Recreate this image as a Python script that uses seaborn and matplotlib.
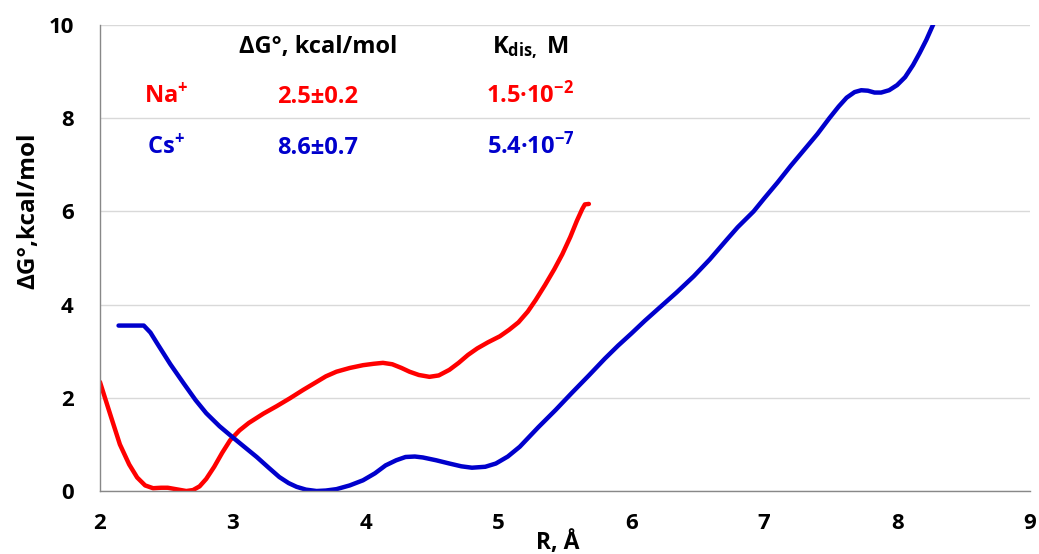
import numpy as np
import pandas as pd
import seaborn as sns
import matplotlib
matplotlib.use("Agg")
import matplotlib.pyplot as plt

# ----------------------------
# DATA
# ----------------------------

na_r = [2.00, 2.04, 2.08, 2.15, 2.22, 2.28, 2.34, 2.40, 2.46, 2.51, 2.57, 2.65,
        2.70, 2.75, 2.80, 2.86, 2.92, 2.98, 3.05, 3.12, 3.23, 3.33, 3.43, 3.53,
        3.63, 3.70, 3.78, 3.88, 3.98, 4.06, 4.13, 4.20, 4.27, 4.33, 4.40, 4.48,
        4.55, 4.63, 4.70, 4.77, 4.84, 4.92, 5.01, 5.08, 5.15, 5.22, 5.28, 5.35,
        5.42, 5.48, 5.54, 5.59, 5.63, 5.65, 5.68]
na_g = [2.34, 1.98, 1.62, 1.00, 0.57, 0.29, 0.12, 0.06, 0.07, 0.07, 0.04, 0.00,
        0.02, 0.10, 0.26, 0.52, 0.82, 1.09, 1.30, 1.46, 1.66, 1.82, 1.99, 2.17,
        2.34, 2.46, 2.56, 2.64, 2.70, 2.73, 2.75, 2.72, 2.64, 2.56, 2.49, 2.45,
        2.48, 2.60, 2.75, 2.92, 3.06, 3.19, 3.32, 3.46, 3.62, 3.85, 4.10, 4.42,
        4.76, 5.08, 5.45, 5.80, 6.05, 6.15, 6.16]

cs_r = [2.14, 2.33, 2.38, 2.43, 2.53, 2.63, 2.72, 2.80, 2.90, 3.00, 3.09, 3.18,
        3.27, 3.35, 3.42, 3.48, 3.55, 3.63, 3.70, 3.78, 3.88, 3.98, 4.07, 4.15,
        4.23, 4.30, 4.37, 4.43, 4.53, 4.63, 4.72, 4.80, 4.90, 4.98, 5.07, 5.16,
        5.20, 5.30, 5.43, 5.55, 5.68, 5.80, 5.90, 6.00, 6.10, 6.21, 6.34, 6.47,
        6.59, 6.72, 6.80, 6.92, 7.00, 7.10, 7.20, 7.30, 7.40, 7.49, 7.56, 7.62,
        7.68, 7.73, 7.78, 7.83, 7.88, 7.94, 8.00, 8.06, 8.12, 8.17, 8.22, 8.27,
        8.30]
cs_g = [3.55, 3.55, 3.40, 3.17, 2.72, 2.31, 1.95, 1.67, 1.39, 1.15, 0.94, 0.73,
        0.50, 0.30, 0.17, 0.09, 0.03, 0.00, 0.01, 0.04, 0.12, 0.23, 0.38, 0.55,
        0.66, 0.73, 0.74, 0.72, 0.66, 0.59, 0.53, 0.50, 0.52, 0.59, 0.74, 0.95,
        1.07, 1.37, 1.74, 2.10, 2.48, 2.84, 3.12, 3.38, 3.65, 3.93, 4.26, 4.61,
        4.97, 5.40, 5.66, 6.00, 6.28, 6.62, 6.98, 7.32, 7.66, 8.00, 8.25, 8.44,
        8.56, 8.60, 8.59, 8.55, 8.55, 8.60, 8.71, 8.88, 9.14, 9.40, 9.68, 10.00,
        10.20]

x_ticks = [2, 3, 4, 5, 6, 7, 8, 9]
y_ticks = [0, 2, 4, 6, 8, 10]

ions = ["Na$^{\\mathbf{+}}$", "Cs$^{\\mathbf{+}}$"]
dg_values = ["2.5\u00b10.2", "8.6\u00b10.7"]
kdis_values = ["1.5\u00b710$^{\\mathbf{-2}}$", "5.4\u00b710$^{\\mathbf{-7}}$"]

RED = "#FF0000"
BLUE = "#0000CC"
ion_colors = [RED, BLUE]

# ----------------------------
# STYLE
# ----------------------------

sns.set_style("white")
plt.rcParams["font.family"] = ["Open Sans", "DejaVu Sans"]
plt.rcParams["font.weight"] = "bold"
plt.rcParams["text.color"] = "black"
plt.rcParams["xtick.labelcolor"] = "black"
plt.rcParams["ytick.labelcolor"] = "black"
plt.rcParams["mathtext.fontset"] = "custom"
plt.rcParams["mathtext.rm"] = "Open Sans:bold"
plt.rcParams["mathtext.bf"] = "Open Sans:bold"
plt.rcParams["mathtext.it"] = "Open Sans:bold"

fig = plt.figure(figsize=(10.39, 5.54), dpi=100)
ax = fig.add_axes([0.0962, 0.1137, 0.8951, 0.8412])

na_df = pd.DataFrame({"R": na_r, "G": na_g})
cs_df = pd.DataFrame({"R": cs_r, "G": cs_g})

sns.lineplot(data=na_df, x="R", y="G", color=RED, linewidth=3.2, sort=False, ax=ax)
sns.lineplot(data=cs_df, x="R", y="G", color=BLUE, linewidth=3.2, sort=False, ax=ax)

ax.set_xlim(2, 9)
ax.set_ylim(0, 10)
ax.set_xticks(x_ticks)
ax.set_yticks(y_ticks)
ax.set_xlabel("")
ax.set_ylabel("")

ax.yaxis.grid(True, color="#D9D9D9", linewidth=1)
ax.set_axisbelow(True)

for s in ["top", "right"]:
    ax.spines[s].set_visible(False)
for s in ["left", "bottom"]:
    ax.spines[s].set_color("#888888")
    ax.spines[s].set_linewidth(1)

ax.tick_params(axis="y", direction="out", length=6, width=1, color="#888888",
               pad=13, labelsize=16, labelcolor="black")
ax.tick_params(axis="x", direction="out", length=6, width=1, color="#888888",
               pad=10, labelsize=16, labelcolor="black")
for lab in ax.get_xticklabels() + ax.get_yticklabels():
    lab.set_fontweight("bold")

# axis titles
fig.text(28 / 1039, (554 - 211) / 554, "\u0394G\u00b0,kcal/mol", rotation=90,
         ha="center", va="center", fontsize=17.5, fontweight="bold")
fig.text(558 / 1039, (554 - 549) / 554, "R, \u00c5", ha="center", va="baseline",
         fontsize=16.5, fontweight="bold")

# table of values
ax.text(3.64, 9.40, "\u0394G\u00b0, kcal/mol", ha="center", va="baseline",
        fontsize=17, fontweight="bold")
ax.text(5.24, 9.40, "K$_{\\mathbf{dis,}}$ M", ha="center", va="baseline",
        fontsize=17, fontweight="bold")

row_y = [8.33, 7.23]
for i in range(2):
    ax.text(2.50, row_y[i], ions[i], ha="center", va="baseline", fontsize=17,
            fontweight="bold", color=ion_colors[i])
    ax.text(3.64, row_y[i], dg_values[i], ha="center", va="baseline", fontsize=17,
            fontweight="bold", color=ion_colors[i])
    ax.text(5.24, row_y[i], kdis_values[i], ha="center", va="baseline", fontsize=17,
            fontweight="bold", color=ion_colors[i])

fig.savefig("out.png", dpi=100)
